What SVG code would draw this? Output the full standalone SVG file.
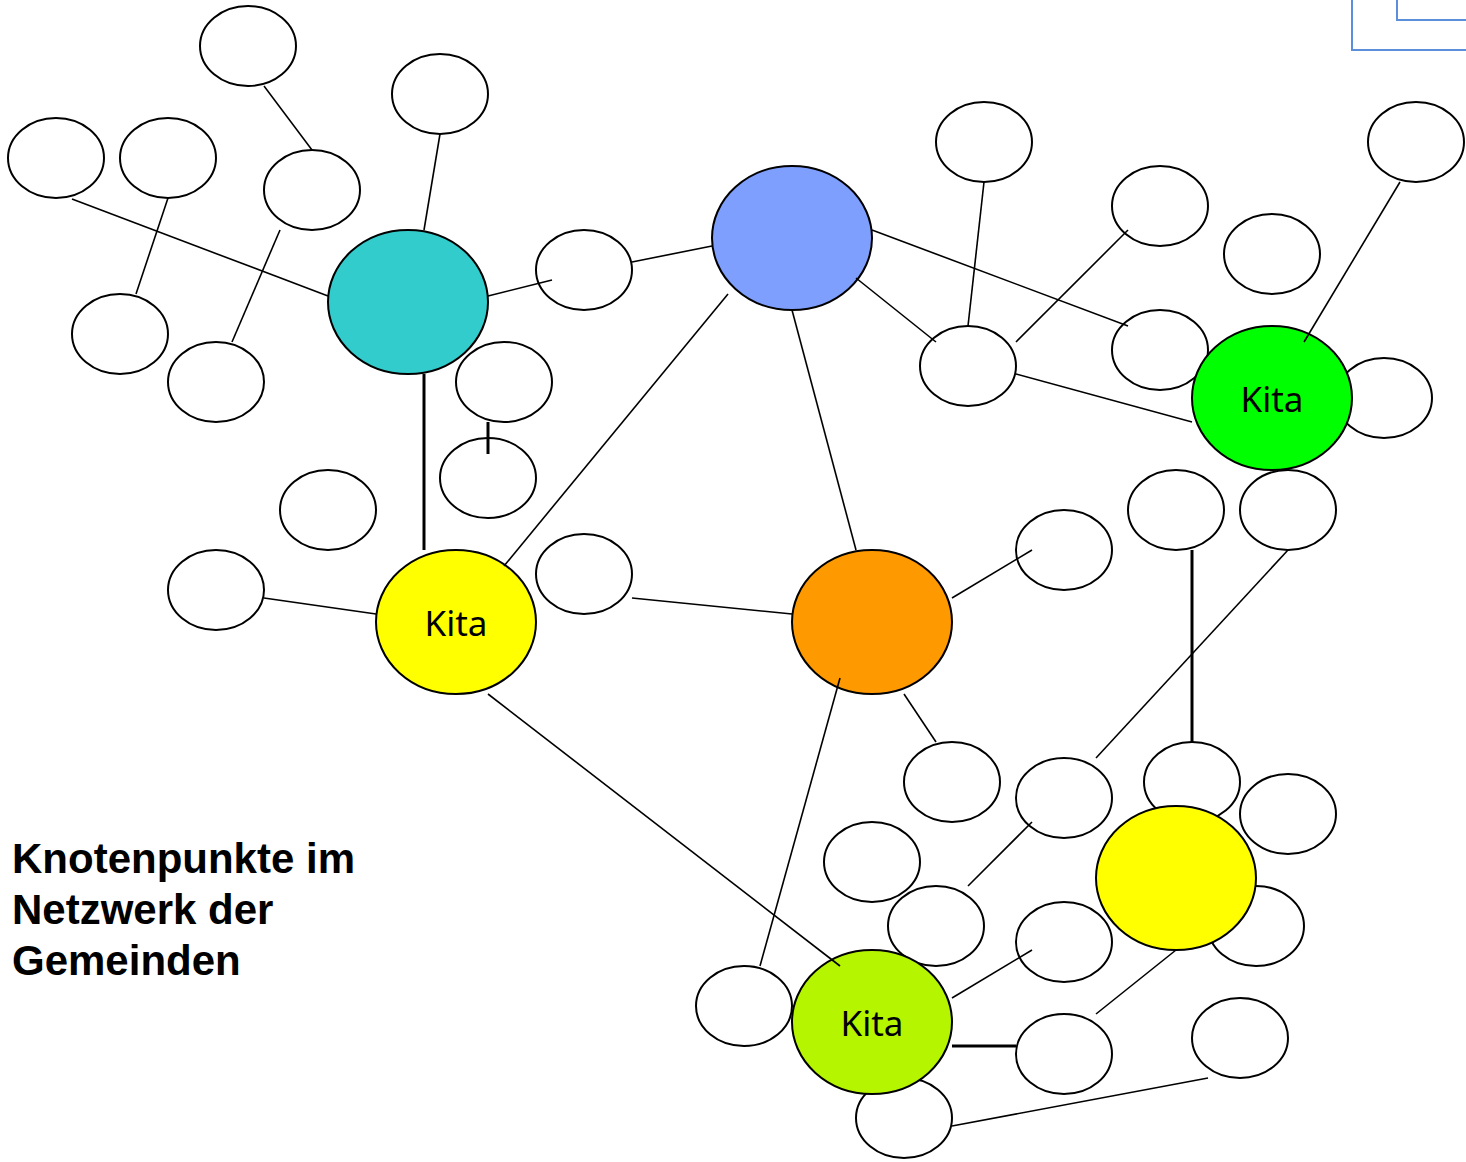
<svg xmlns="http://www.w3.org/2000/svg" width="1466" height="1162" viewBox="0 0 1466 1162">
<style>
.s{fill:#fff;stroke:#000;stroke-width:2}
.b{stroke:#000;stroke-width:2}
.c line{stroke:#000;stroke-width:1.6}
.c line.t{stroke-width:3}
.k{font-family:"Noto Sans","Open Sans",sans-serif;font-size:35px;fill:#000;text-anchor:middle}
.h{font-family:"Liberation Sans",Arial,sans-serif;font-weight:bold;font-size:42px;fill:#000}
</style>
<g id="deco" fill="none" stroke="#5B8FDB" stroke-width="2">
<polyline points="1352,0 1352,50 1466,50"/>
<polyline points="1397,0 1397,20 1466,20"/>
</g>
<g id="n1"><ellipse class="s" cx="248" cy="46" rx="48" ry="40"/></g>
<g id="n2"><ellipse class="s" cx="440" cy="94" rx="48" ry="40"/></g>
<g id="n3"><ellipse class="s" cx="56" cy="158" rx="48" ry="40"/></g>
<g id="n4"><ellipse class="s" cx="168" cy="158" rx="48" ry="40"/></g>
<g id="n5"><ellipse class="s" cx="312" cy="190" rx="48" ry="40"/></g>
<g id="n6"><ellipse class="s" cx="120" cy="334" rx="48" ry="40"/></g>
<g id="n7"><ellipse class="s" cx="216" cy="382" rx="48" ry="40"/></g>
<g id="n8"><ellipse class="s" cx="584" cy="270" rx="48" ry="40"/></g>
<g id="n10"><ellipse class="s" cx="488" cy="478" rx="48" ry="40"/></g>
<g id="n11"><ellipse class="s" cx="328" cy="510" rx="48" ry="40"/></g>
<g id="n12"><ellipse class="s" cx="216" cy="590" rx="48" ry="40"/></g>
<g id="n13"><ellipse class="s" cx="584" cy="574" rx="48" ry="40"/></g>
<g id="n14"><ellipse class="s" cx="984" cy="142" rx="48" ry="40"/></g>
<g id="n15"><ellipse class="s" cx="1160" cy="206" rx="48" ry="40"/></g>
<g id="n16"><ellipse class="s" cx="1416" cy="142" rx="48" ry="40"/></g>
<g id="n17"><ellipse class="s" cx="1272" cy="254" rx="48" ry="40"/></g>
<g id="n18"><ellipse class="s" cx="1160" cy="350" rx="48" ry="40"/></g>
<g id="n19"><ellipse class="s" cx="968" cy="366" rx="48" ry="40"/></g>
<g id="n20"><ellipse class="s" cx="1384" cy="398" rx="48" ry="40"/></g>
<g id="n21"><ellipse class="s" cx="1176" cy="510" rx="48" ry="40"/></g>
<g id="n22"><ellipse class="s" cx="1288" cy="510" rx="48" ry="40"/></g>
<g id="n23"><ellipse class="s" cx="1064" cy="550" rx="48" ry="40"/></g>
<g id="n24"><ellipse class="s" cx="952" cy="782" rx="48" ry="40"/></g>
<g id="n25"><ellipse class="s" cx="1064" cy="798" rx="48" ry="40"/></g>
<g id="n26"><ellipse class="s" cx="1192" cy="782" rx="48" ry="40"/></g>
<g id="n27"><ellipse class="s" cx="1288" cy="814" rx="48" ry="40"/></g>
<g id="n28"><ellipse class="s" cx="872" cy="862" rx="48" ry="40"/></g>
<g id="n29"><ellipse class="s" cx="936" cy="926" rx="48" ry="40"/></g>
<g id="n30"><ellipse class="s" cx="1064" cy="942" rx="48" ry="40"/></g>
<g id="n31"><ellipse class="s" cx="1256" cy="926" rx="48" ry="40"/></g>
<g id="n32"><ellipse class="s" cx="744" cy="1006" rx="48" ry="40"/></g>
<g id="n33"><ellipse class="s" cx="1064" cy="1054" rx="48" ry="40"/></g>
<g id="n34"><ellipse class="s" cx="1240" cy="1038" rx="48" ry="40"/></g>
<g id="n35"><ellipse class="s" cx="904" cy="1118" rx="48" ry="40"/></g>
<g id="teal"><ellipse class="b" fill="#33CCCC" cx="408" cy="302" rx="80" ry="72"/></g>
<g id="n9"><ellipse class="s" cx="504" cy="382" rx="48" ry="40"/></g>
<g id="blue"><ellipse class="b" fill="#7F9FFF" cx="792" cy="238" rx="80" ry="72"/></g>
<g id="kitaGreen"><ellipse class="b" fill="#00FF00" cx="1272" cy="398" rx="80" ry="72"/><text class="k" x="1272" y="412">Kita</text></g>
<g id="kitaYellow"><ellipse class="b" fill="#FFFF00" cx="456" cy="622" rx="80" ry="72"/><text class="k" x="456" y="636">Kita</text></g>
<g id="orange"><ellipse class="b" fill="#FF9900" cx="872" cy="622" rx="80" ry="72"/></g>
<g id="yellow2"><ellipse class="b" fill="#FFFF00" cx="1176" cy="878" rx="80" ry="72"/></g>
<g id="kitaLime"><ellipse class="b" fill="#B5F500" cx="872" cy="1022" rx="80" ry="72"/><text class="k" x="872" y="1036">Kita</text></g>
<g id="connectors" class="c">
<line x1="72" y1="199" x2="328" y2="296"/>
<line x1="168" y1="198" x2="136" y2="294"/>
<line x1="264" y1="86" x2="312" y2="150"/>
<line x1="280" y1="230" x2="232" y2="342"/>
<line x1="440" y1="134" x2="424" y2="230"/>
<line x1="488" y1="296" x2="552" y2="280"/>
<line x1="632" y1="262" x2="712" y2="246"/>
<line class="t" x1="424" y1="374" x2="424" y2="550"/>
<line class="t" x1="488" y1="422" x2="488" y2="454"/>
<line x1="728" y1="294" x2="504" y2="566"/>
<line x1="792" y1="310" x2="856" y2="550"/>
<line x1="856" y1="278" x2="936" y2="342"/>
<line x1="872" y1="230" x2="1128" y2="326"/>
<line x1="984" y1="182" x2="968" y2="326"/>
<line x1="1016" y1="342" x2="1128" y2="230"/>
<line x1="1016" y1="374" x2="1192" y2="422"/>
<line x1="1400" y1="182" x2="1304" y2="342"/>
<line x1="264" y1="598" x2="376" y2="614"/>
<line x1="632" y1="598" x2="792" y2="614"/>
<line x1="952" y1="598" x2="1032" y2="550"/>
<line x1="904" y1="694" x2="936" y2="742"/>
<line x1="840" y1="678" x2="760" y2="966"/>
<line x1="488" y1="694" x2="840" y2="966"/>
<line x1="1288" y1="550" x2="1096" y2="758"/>
<line class="t" x1="1192" y1="550" x2="1192" y2="742"/>
<line x1="1032" y1="822" x2="968" y2="886"/>
<line x1="952" y1="998" x2="1032" y2="950"/>
<line class="t" x1="952" y1="1046" x2="1016" y2="1046"/>
<line x1="1176" y1="950" x2="1096" y2="1014"/>
<line x1="952" y1="1126" x2="1208" y2="1078"/>
</g>
<g id="title">
<text class="h" x="12" y="873">Knotenpunkte im</text>
<text class="h" x="12" y="924">Netzwerk der</text>
<text class="h" x="12" y="975">Gemeinden</text>
</g>
</svg>
